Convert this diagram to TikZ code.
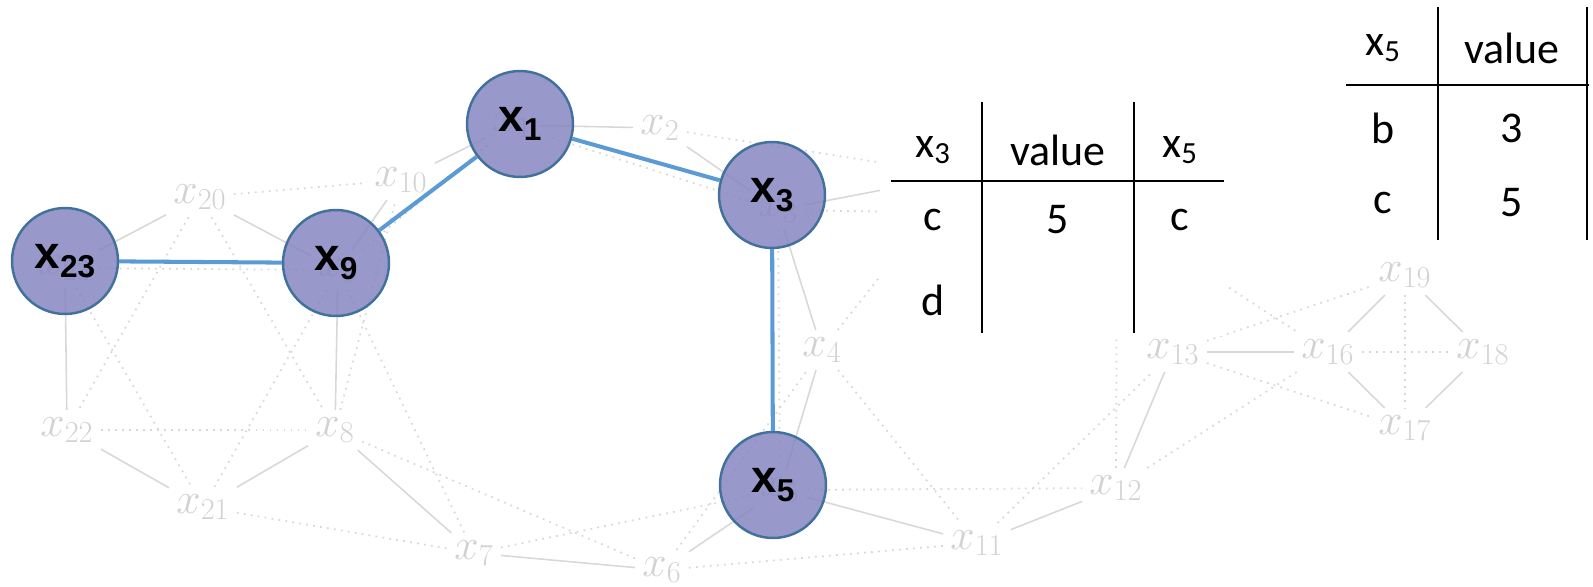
\documentclass[tikz,border=0pt]{standalone}
\usepackage[no-math]{fontspec}
\setmainfont{Carlito}
\newfontfamily\arialfont{Liberation Sans}
\usepackage{xcolor}

\definecolor{edgegray}{RGB}{216,216,216}
\definecolor{labgray}{RGB}{210,210,210}
\definecolor{selfill}{RGB}{134,134,193}
\definecolor{selborder}{RGB}{65,113,156}
\definecolor{pathblue}{RGB}{91,155,213}

\newcommand{\bsub}[1]{\raisebox{-0.35ex}{\fontsize{18}{18}\selectfont #1}}

\tikzset{
  varlab/.style={text=labgray, font=\fontsize{24}{28}\selectfont, inner sep=4pt},
  tie/.style={draw=edgegray, line width=0.9pt},
  weak/.style={draw=edgegray, line width=1pt, dash pattern=on 1pt off 3pt},
  picked/.style={circle, draw=selborder, line width=1.4pt, fill=selfill,
    fill opacity=0.85, text opacity=1, minimum size=2.12cm, inner sep=0pt,
    font=\arialfont\bfseries\fontsize{26}{26}\selectfont},
  route/.style={draw=pathblue, line width=2.3pt},
  cell/.style={font=\fontsize{25}{30}\selectfont, inner sep=0pt},
  tabrule/.style={line width=1.4pt}
}

\begin{document}
\begin{tikzpicture}[x=0.02cm,y=-0.02cm]
  \useasboundingbox (0,0) rectangle (1593,587);

  % faded factor graph
  \foreach \i/\px/\py in {1/512/125, 2/660/128, 3/778/210, 4/822/350,
      5/780/490, 6/662/570, 7/474/553, 8/335/430, 9/338/270, 10/401/180,
      11/977/543, 12/1116/488, 13/1173/352, 16/1328/352, 17/1405/428,
      18/1483/352, 19/1405/275, 20/200/197, 21/203/507, 22/67/430, 23/65/268}
    \node[varlab] (x\i) at (\px,\py) {$x_{\i}$};
  \coordinate (x14) at (960,175);
  \coordinate (x15) at (1117,215);

  \foreach \a/\b in {1/2, 1/10, 2/3, 3/14, 3/4, 4/5, 5/6, 5/11, 6/7, 7/8,
      8/9, 8/21, 21/22, 22/23, 23/20, 20/9, 9/10, 11/12, 12/13, 13/16,
      16/19, 19/18, 18/17, 17/16}
    \draw[tie] (x\a) -- (x\b);
  \foreach \a/\b in {20/10, 20/22, 23/21, 20/8, 9/21, 22/8, 23/9, 9/7,
      8/10, 8/6, 21/7, 7/5, 6/4, 6/11, 5/12, 4/11, 3/5, 1/3, 9/1, 2/14,
      4/14, 3/15, 15/16, 12/15, 11/13, 12/16, 13/17, 13/19, 16/18, 19/17}
    \draw[weak] (x\a) -- (x\b);

  \fill[white] (880,95) rectangle (1226,336);

  % chosen variables
  \node[picked] (c23) at (65,261) {x\bsub{23}};
  \node[picked] (c9) at (336,263) {x\bsub{9}};
  \node[picked] (c1) at (520,124) {x\bsub{1}};
  \node[picked] (c3) at (772,195) {x\bsub{3}};
  \node[picked] (c5) at (773,485) {x\bsub{5}};
  \draw[route] (c23) -- (c9) -- (c1) -- (c3) -- (c5);

  % message table x3
  \draw[tabrule] (891,181) -- (1224,181);
  \draw[tabrule] (982,102) -- (982,333);
  \draw[tabrule] (1134,102) -- (1134,333);
  \node[cell] (ta-h1) at (933,150) {x\textsubscript{3}};
  \node[cell] (ta-h2) at (1058,150) {value};
  \node[cell] (ta-h3) at (1180,150) {x\textsubscript{5}};
  \node[cell] (ta-a1) at (933,220) {c};
  \node[cell] (ta-a2) at (1058,220) {5};
  \node[cell] (ta-a3) at (1180,220) {c};
  \node[cell] (ta-b1) at (933,300) {d};

  % message table x5
  \draw[tabrule] (1346,85) -- (1589,85);
  \draw[tabrule] (1438,7) -- (1438,240);
  \draw[tabrule] (1587,7) -- (1587,240);
  \node[cell] (tb-h1) at (1383,48) {x\textsubscript{5}};
  \node[cell] (tb-h2) at (1512,48) {value};
  \node[cell] (tb-a1) at (1383,128) {b};
  \node[cell] (tb-a2) at (1512,128) {3};
  \node[cell] (tb-b1) at (1383,203) {c};
  \node[cell] (tb-b2) at (1512,203) {5};
\end{tikzpicture}
\end{document}
